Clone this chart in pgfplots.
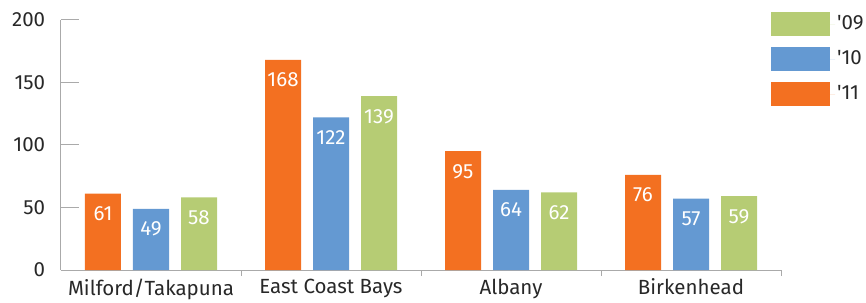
\documentclass[border=0pt]{standalone}
\usepackage{pgfplots}
\pgfplotsset{compat=1.18}
\usepackage{fontspec}
\setmainfont{Fira Sans}
\definecolor{corange}{RGB}{243,112,33}
\definecolor{cblue}{RGB}{100,153,210}
\definecolor{cgreen}{RGB}{182,204,116}
\definecolor{cgrid}{RGB}{170,170,170}
\definecolor{ctext}{RGB}{40,40,40}
\begin{document}
\fontsize{20}{24}\selectfont
\begin{tikzpicture}
\begin{axis}[
  at={(0pt,0pt)}, anchor=origin,
  scale only axis, width=720pt, height=250pt,
  xmin=0, xmax=4, ymin=0, ymax=200,
  axis x line=bottom, axis y line=left,
  axis line style={-, draw=cgrid, line width=1pt},
  tick align=inside,
  ytick={0,50,100,150,200},
  major tick length=18pt,
  ytick style={draw=cgrid, line width=1pt},
  xtick={0.5,1.5,2.5,3.5},
  xticklabels={Milford/Takapuna, East Coast Bays, Albany, Birkenhead},
  xtick style={draw=none},
  minor xtick={1,2,3,4},
  minor tick length=6pt,
  minor x tick style={draw=cgrid, line width=1pt},
  /pgf/number format/assume math mode=true,
  ticklabel style={text=ctext, font=\fontsize{20.5}{24}\selectfont},
  yticklabel style={xshift=-9pt},
  xticklabel style={anchor=north, yshift=16pt, text depth=0pt},
  ybar, bar width=36pt,
  nodes near coords,
  nodes near coords style={anchor=north, text=white, font=\fontsize{20.5}{24}\selectfont, yshift=-6pt},
  clip=false,
  legend cell align=left,
  reverse legend,
  legend style={draw=none, fill=none,
    at={(rel axis cs:0.986,1.032)}, anchor=north west, row sep=11pt, inner sep=0pt,
    font=\fontsize{20.5}{24}\selectfont, text=ctext,
    nodes={inner sep=2pt}},
  legend image code/.code={\fill[#1] (0pt,-12pt) rectangle (59pt,12pt); \path (0pt,0pt) -- (64pt,0pt);},
]
\addplot[fill=corange, draw=none, bar shift=-48pt] coordinates {(0.5,61) (1.5,168) (2.5,95) (3.5,76)};
\addplot[fill=cblue, draw=none, bar shift=0pt] coordinates {(0.5,49) (1.5,122) (2.5,64) (3.5,57)};
\addplot[fill=cgreen, draw=none, bar shift=48pt] coordinates {(0.5,58) (1.5,139) (2.5,62) (3.5,59)};
\legend{\textquotesingle11,\textquotesingle10,\textquotesingle09}
\end{axis}
\path (-61pt,-26pt) rectangle (805pt,270pt);
\end{tikzpicture}
\end{document}
